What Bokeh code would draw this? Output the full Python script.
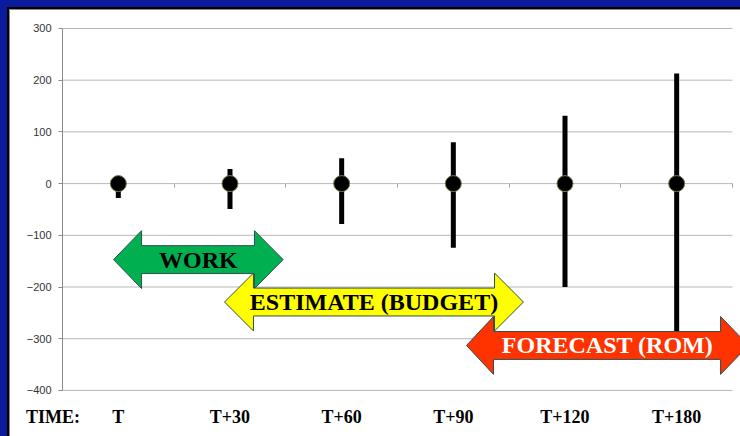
from bokeh.plotting import figure
from bokeh.models import Range1d, FixedTicker, LinearAxis
from bokeh.core.properties import value
from bokeh.embed import file_html
from bokeh.resources import INLINE

# ---- data ----
categories = ["T", "T+30", "T+60", "T+90", "T+120", "T+180"]
center_vals = [0, 0, 0, 0, 0, 0]
upper_vals = [10, 28, 49, 80, 131, 213]
lower_vals = [-28, -49, -78, -124, -200, -320]
y_ticks = [-400, -300, -200, -100, 0, 100, 200, 300]

arrow_labels = ["WORK", "ESTIMATE (BUDGET)", "FORECAST (ROM)"]
arrow_left_tip = [0.457, 1.451, 3.618]
arrow_left_base = [0.708, 1.710, 3.860]
arrow_right_base = [1.719, 3.869, 5.893]
arrow_right_tip = [1.976, 4.128, 6.143]
arrow_center = [-147, -229, -313]
arrow_colors = ["#00B050", "#FFFF00", "#FF3300"]
arrow_text_colors = ["#000000", "#000000", "#FFFFFF"]
body_half = 27
head_half = 56

time_label = "TIME:"
time_label_x = -0.085

n = len(categories)
xs_cat = [i + 0.5 for i in range(n)]
bounds = [i + 1 for i in range(n)]
y_min, y_max = min(y_ticks), max(y_ticks)

# frame covers the whole white panel; axes are pinned at x=0 and y=-400
p = figure(width=740, height=436, x_range=Range1d(-0.5552, 6.0716), y_range=Range1d(-489.1, 354.1),
           output_backend="svg", toolbar_location=None,
           min_border_left=0, min_border_right=0, min_border_top=0, min_border_bottom=0)
p.background_fill_color = None
p.border_fill_color = None
p.outline_line_color = None
p.styles = {"background-color": "#FFFFFF",
            "box-shadow": "inset 7px 7px 0 0 #0A1B9E, inset 9px 9px 0 0 #000000, inset 10px 10px 0 0 #8A8A8A"}
p.xgrid.visible = False
p.ygrid.visible = False

# horizontal gridlines from the y ticks, spanning the category area
p.segment(x0=[0] * len(y_ticks), y0=y_ticks, x1=[n] * len(y_ticks), y1=y_ticks,
          line_color="#B8B8B8", line_width=1)

# y axis pinned at x = 0
p.yaxis.fixed_location = 0
p.yaxis.bounds = (y_min, y_max)
p.yaxis.ticker = FixedTicker(ticks=y_ticks)
p.yaxis.axis_line_color = "#8C8C8C"
p.yaxis.major_tick_line_color = "#8C8C8C"
p.yaxis.major_tick_out = 4
p.yaxis.major_tick_in = 0
p.yaxis.minor_tick_line_color = None
p.yaxis.major_label_text_font = "Liberation Sans"
p.yaxis.major_label_text_font_size = "11px"
p.yaxis.major_label_text_color = "#333333"
p.yaxis.major_label_standoff = 7

# time labels: axis pinned at the bottom gridline
p.xaxis.fixed_location = y_min
p.xaxis.ticker = FixedTicker(ticks=[time_label_x] + xs_cat)
overrides = {x: c for x, c in zip(xs_cat, categories)}
overrides[time_label_x] = time_label
p.xaxis.major_label_overrides = overrides
p.xaxis.axis_line_color = None
p.xaxis.major_tick_line_color = None
p.xaxis.minor_tick_line_color = None
p.xaxis.major_label_text_font = "Liberation Serif"
p.xaxis.major_label_text_font_style = "bold"
p.xaxis.major_label_text_font_size = "18px"
p.xaxis.major_label_text_color = "#000000"
p.xaxis.major_label_standoff = 11

# ticks at category boundaries on the zero line (line itself is the zero gridline)
zero_axis = LinearAxis(fixed_location=0, bounds=(0, n), ticker=FixedTicker(ticks=bounds),
                       axis_line_color=None, major_tick_line_color="#A0A0A0",
                       major_tick_out=4, major_tick_in=0, minor_tick_line_color=None,
                       major_label_text_font_size="0px", major_label_text_color=None,
                       level="underlay")
p.add_layout(zero_axis, "below")

# error bars and points
p.segment(x0=xs_cat, y0=lower_vals, x1=xs_cat, y1=upper_vals, line_color="black", line_width=5)
p.scatter(xs_cat, center_vals, size=16, fill_color="black", line_color="#7A7A50", line_width=1)

# double arrows
axs, ays = [], []
for lt, lb, rb, rt, c in zip(arrow_left_tip, arrow_left_base, arrow_right_base, arrow_right_tip, arrow_center):
    axs.append([lt, lb, lb, rb, rb, rt, rb, rb, lb, lb])
    ays.append([c, c + head_half, c + body_half, c + body_half, c + head_half, c,
                c - head_half, c - body_half, c - body_half, c - head_half])
p.patches(axs, ays, fill_color=arrow_colors, line_color="#2F4F4F", line_width=1)

tx = [(a + b) / 2 for a, b in zip(arrow_left_tip, arrow_right_tip)]
p.text(tx, arrow_center, text=arrow_labels, text_color=arrow_text_colors,
       text_font=value("Liberation Serif"), text_font_style="bold", text_font_size="24px",
       text_align="center", text_baseline="middle")

open("out.html", "w").write(file_html(p, INLINE))
